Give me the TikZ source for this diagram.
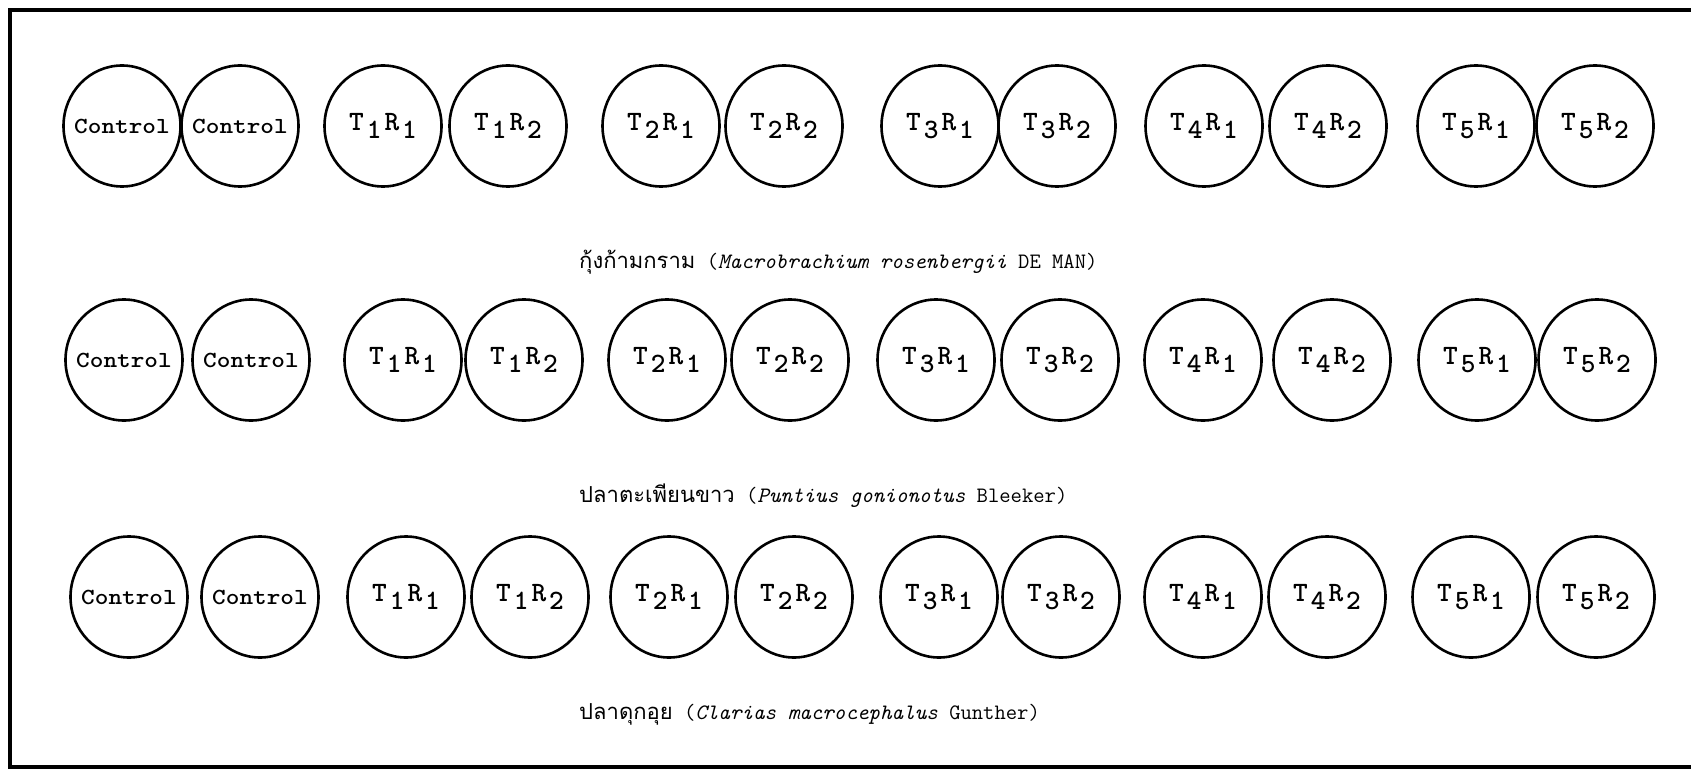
\documentclass[tikz,border=0pt]{standalone}
\usepackage{fontspec}
\usepackage{graphicx}
\usetikzlibrary{shapes.geometric}
\newfontfamily\thaifont[Script=Thai]{Loma}
\newcommand{\trlab}[2]{\makebox[0pt]{T\kern3pt\raisebox{-8pt}{#1}\kern3pt R\kern3pt\raisebox{-8pt}{#2}}}
\newcommand{\ctllab}{\makebox[0pt]{\scalebox{1.13}[1]{Control}}}
\begin{document}
\begin{tikzpicture}[x=1pt,y=-1pt,
  pot/.style={ellipse, draw, line width=2.6pt, minimum width=117pt, minimum height=121pt, inner sep=0pt},
  ctl/.style={font=\fontsize{23}{25}\selectfont\ttfamily\bfseries},
  trt/.style={font=\fontsize{28}{30}\selectfont\ttfamily\bfseries},
  captext/.style={anchor=west, inner sep=0pt, font=\fontsize{22}{24}\selectfont\ttfamily},
  frame/.style={line width=4pt}]
\useasboundingbox (0,0) rectangle (1691,770);
\coordinate (ftr) at (1691,10);
\coordinate (ftl) at (10,10);
\coordinate (fbl) at (10,767);
\coordinate (fbr) at (1691,767);
\draw[frame] (ftr) -- (ftl) -- (fbl) -- (fbr);
% row 1
\node[pot,ctl] (a1) at (122,126) {\ctllab};
\node[pot,ctl] (a2) at (240,126) {\ctllab};
\node[pot,trt] (a3) at (383,126) {\trlab{1}{1}};
\node[pot,trt] (a4) at (508,126) {\trlab{1}{2}};
\node[pot,trt] (a5) at (661,126) {\trlab{2}{1}};
\node[pot,trt] (a6) at (784,126) {\trlab{2}{2}};
\node[pot,trt] (a7) at (940,126) {\trlab{3}{1}};
\node[pot,trt] (a8) at (1057,126) {\trlab{3}{2}};
\node[pot,trt] (a9) at (1204,126) {\trlab{4}{1}};
\node[pot,trt] (a10) at (1328,126) {\trlab{4}{2}};
\node[pot,trt] (a11) at (1476,126) {\trlab{5}{1}};
\node[pot,trt] (a12) at (1595,126) {\trlab{5}{2}};
\node[captext] (capa) at (579,262) {{\thaifont กุ้งก้ามกราม} (\textit{Macrobrachium rosenbergii} DE MAN)};
% row 2
\node[pot,ctl] (b1) at (124,360) {\ctllab};
\node[pot,ctl] (b2) at (251,360) {\ctllab};
\node[pot,trt] (b3) at (403,360) {\trlab{1}{1}};
\node[pot,trt] (b4) at (524,360) {\trlab{1}{2}};
\node[pot,trt] (b5) at (667,360) {\trlab{2}{1}};
\node[pot,trt] (b6) at (790,360) {\trlab{2}{2}};
\node[pot,trt] (b7) at (936,360) {\trlab{3}{1}};
\node[pot,trt] (b8) at (1060,360) {\trlab{3}{2}};
\node[pot,trt] (b9) at (1203,360) {\trlab{4}{1}};
\node[pot,trt] (b10) at (1332,360) {\trlab{4}{2}};
\node[pot,trt] (b11) at (1477,360) {\trlab{5}{1}};
\node[pot,trt] (b12) at (1597,360) {\trlab{5}{2}};
\node[captext] (capb) at (579,496) {{\thaifont ปลาตะเพียนขาว} (\textit{Puntius gonionotus} Bleeker)};
% row 3
\node[pot,ctl] (c1) at (129,597) {\ctllab};
\node[pot,ctl] (c2) at (260,597) {\ctllab};
\node[pot,trt] (c3) at (406,597) {\trlab{1}{1}};
\node[pot,trt] (c4) at (530,597) {\trlab{1}{2}};
\node[pot,trt] (c5) at (669,597) {\trlab{2}{1}};
\node[pot,trt] (c6) at (794,597) {\trlab{2}{2}};
\node[pot,trt] (c7) at (939,597) {\trlab{3}{1}};
\node[pot,trt] (c8) at (1061,597) {\trlab{3}{2}};
\node[pot,trt] (c9) at (1203,597) {\trlab{4}{1}};
\node[pot,trt] (c10) at (1327,597) {\trlab{4}{2}};
\node[pot,trt] (c11) at (1471,597) {\trlab{5}{1}};
\node[pot,trt] (c12) at (1596,597) {\trlab{5}{2}};
\node[captext] (capc) at (579,714) {{\thaifont ปลาดุกอุย} (\textit{Clarias macrocephalus} Gunther)};
\end{tikzpicture}
\end{document}
